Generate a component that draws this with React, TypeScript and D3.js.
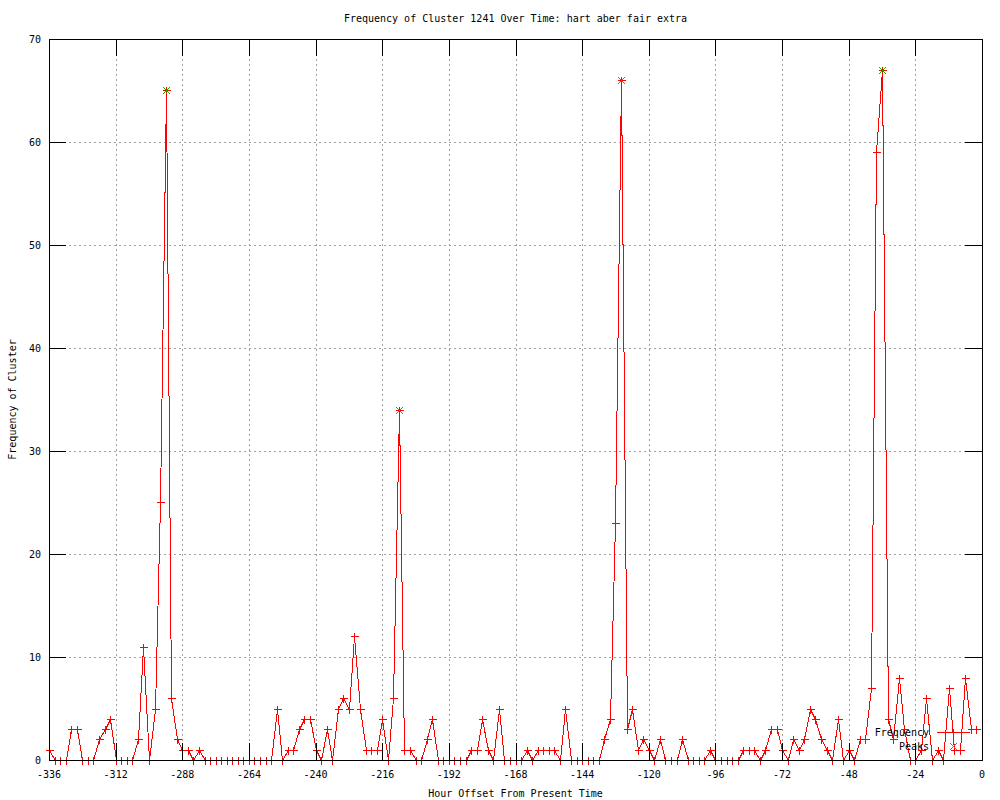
import React from 'react';
import * as d3 from 'd3';

// hourly offsets, one sample every 2 hours
const hours = d3.range(-336, 0, 2);

const frequency = [
  1, 0, 0, 0, 3, 3, 0, 0,
  0, 2, 3, 4, 0, 0, 0, 0,
  2, 11, 0, 5, 25, 65, 6, 2,
  1, 1, 0, 1, 0, 0, 0, 0,
  0, 0, 0, 0, 0, 0, 0, 0,
  0, 5, 0, 1, 1, 3, 4, 4,
  1, 0, 3, 0, 5, 6, 5, 12,
  5, 1, 1, 1, 4, 0, 6, 34,
  1, 1, 0, 0, 2, 4, 0, 0,
  0, 0, 0, 0, 1, 1, 4, 1,
  0, 5, 0, 0, 0, 0, 1, 0,
  1, 1, 1, 1, 0, 5, 0, 0,
  0, 0, 0, 0, 2, 4, 23, 66,
  3, 5, 1, 2, 1, 0, 2, 0,
  0, 0, 2, 0, 0, 0, 0, 1,
  0, 0, 0, 0, 0, 1, 1, 1,
  0, 1, 3, 3, 1, 0, 2, 1,
  2, 5, 4, 2, 1, 0, 4, 0,
  1, 0, 2, 2, 7, 59, 67, 4,
  2, 8, 3, 0, 0, 1, 6, 0,
  1, 0, 7, 1, 1, 8, 3, 3,
];

const peakHours = [-294, -210, -130, -36];
const peakValues = [65, 34, 66, 67];

const xTicks = [-336, -312, -288, -264, -240, -216, -192, -168, -144, -120, -96, -72, -48, -24, 0];
const yTicks = [0, 10, 20, 30, 40, 50, 60, 70];

const WIDTH = 1000;
const HEIGHT = 800;
const LEFT = 49;
const RIGHT = 982;
const TOP = 39;
const BOTTOM = 760;
const TICK = 17;
const FONT = '"DejaVu Sans Mono", monospace';
const RED = '#ff0000';
const GREEN = '#00c000';

const x = d3.scaleLinear().domain([-336, 0]).range([LEFT, RIGHT]);
const y = d3.scaleLinear().domain([0, 70]).range([BOTTOM, TOP]);

const px = (v: number) => Math.round(x(v)) + 0.5;
const py = (v: number) => Math.round(y(v)) + 0.5;

const plus = (cx: number, cy: number, r = 4) =>
  `M${cx - r},${cy}H${cx + r}M${cx},${cy - r}V${cy + r}`;
const cross = (cx: number, cy: number, r = 3.5) =>
  `M${cx - r},${cy - r}L${cx + r},${cy + r}M${cx - r},${cy + r}L${cx + r},${cy - r}`;

const App = () => {
  const points = hours.map((h, i) => ({ h, v: frequency[i] }));
  const line = d3
    .line<{ h: number; v: number }>()
    .x(d => px(d.h))
    .y(d => py(d.v));

  const lx = 953.5;
  const ly1 = 732.5;
  const ly2 = 746.5;

  return (
    <svg
      width={WIDTH}
      height={HEIGHT}
      style={{ position: 'absolute', left: 0, top: 0, background: '#fff' }}
      fontFamily={FONT}
      fontSize={10}
    >
      <rect width={WIDTH} height={HEIGHT} fill="#fff" />

      {/* grid */}
      <g stroke="#a0a0a0" strokeDasharray="2,3" shapeRendering="crispEdges">
        {xTicks.slice(1, -1).map(t => (
          <line key={'gx' + t} x1={px(t)} x2={px(t)} y1={TOP} y2={BOTTOM} />
        ))}
        {yTicks.slice(1, -1).map(t => (
          <line key={'gy' + t} x1={LEFT} x2={RIGHT} y1={py(t)} y2={py(t)} />
        ))}
      </g>

      {/* frequency series */}
      <path d={line(points) || ''} fill="none" stroke={RED} strokeWidth={1} shapeRendering="crispEdges" />
      <g stroke={RED} shapeRendering="crispEdges">
        {points.map(d => (
          <path key={'p' + d.h} d={plus(px(d.h), py(d.v))} />
        ))}
      </g>

      {/* peaks */}
      <g stroke={GREEN} shapeRendering="crispEdges">
        {peakHours.map((h, i) => (
          <path key={'k' + h} d={cross(px(h), py(peakValues[i]))} />
        ))}
      </g>

      {/* ticks */}
      <g stroke="#000" shapeRendering="crispEdges">
        {xTicks.map(t => (
          <g key={'tx' + t}>
            <line x1={px(t)} x2={px(t)} y1={BOTTOM} y2={BOTTOM - TICK} />
            <line x1={px(t)} x2={px(t)} y1={TOP} y2={TOP + TICK} />
          </g>
        ))}
        {yTicks.map(t => (
          <g key={'ty' + t}>
            <line x1={LEFT} x2={LEFT + TICK} y1={py(t)} y2={py(t)} />
            <line x1={RIGHT - TICK} x2={RIGHT} y1={py(t)} y2={py(t)} />
          </g>
        ))}
        <rect
          x={LEFT + 0.5}
          y={TOP + 0.5}
          width={RIGHT - LEFT}
          height={BOTTOM - TOP}
          fill="none"
        />
      </g>

      {/* tick labels */}
      <g fill="#000">
        {xTicks.map(t => (
          <text key={'lx' + t} x={x(t)} y={778} textAnchor="middle">
            {t}
          </text>
        ))}
        {yTicks.map(t => (
          <text key={'ly' + t} x={41} y={y(t) + 3.5} textAnchor="end">
            {t}
          </text>
        ))}
      </g>

      {/* titles */}
      <text x={(LEFT + RIGHT) / 2} y={22} textAnchor="middle">
        Frequency of Cluster 1241 Over Time: hart aber fair extra
      </text>
      <text x={(LEFT + RIGHT) / 2} y={797} textAnchor="middle">
        Hour Offset From Present Time
      </text>
      <text transform={`translate(16,${(TOP + BOTTOM) / 2}) rotate(-90)`} textAnchor="middle">
        Frequency of Cluster
      </text>

      {/* legend */}
      <text x={929} y={ly1 + 3.5} textAnchor="end">
        Frequency
      </text>
      <line x1={937} x2={970} y1={ly1} y2={ly1} stroke={RED} shapeRendering="crispEdges" />
      <path d={plus(lx, ly1)} stroke={RED} shapeRendering="crispEdges" />
      <text x={929} y={ly2 + 3.5} textAnchor="end">
        Peaks
      </text>
      <path d={cross(lx, ly2)} stroke={GREEN} shapeRendering="crispEdges" />
    </svg>
  );
};

export default App;
